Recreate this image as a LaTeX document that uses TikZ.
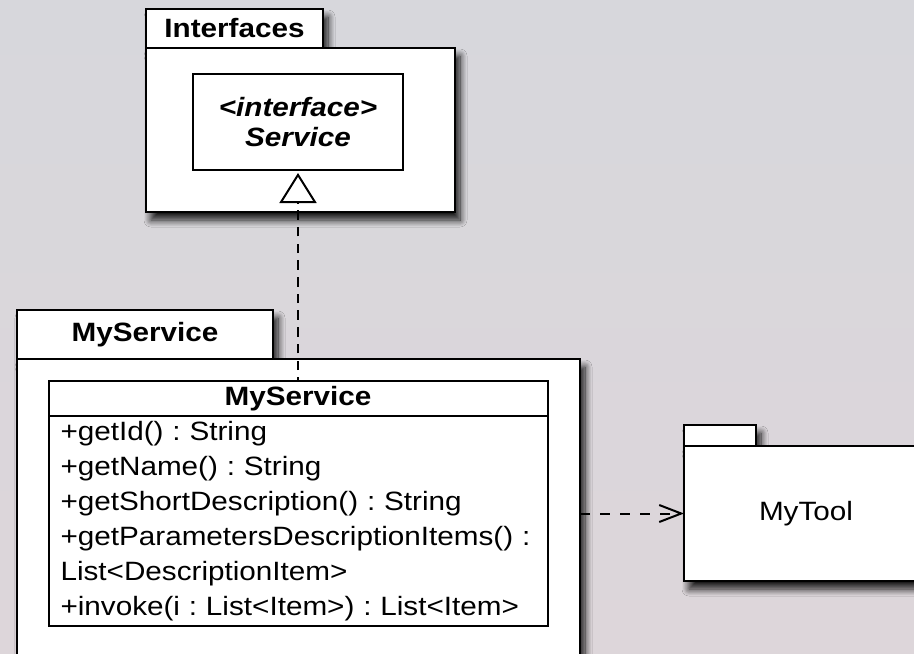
\documentclass[tikz,border=0pt]{standalone}
\usepackage{fontspec}
\setmainfont{Liberation Sans}[FakeStretch=1.12]
\usetikzlibrary{positioning,arrows.meta,shadows.blur}
\frenchspacing

\definecolor{bgtop}{RGB}{215,215,220}
\definecolor{bgmid}{RGB}{214,214,215}
\definecolor{bgbot}{RGB}{221,214,218}

\newcommand{\umlsize}{\fontsize{26.5}{35}\selectfont}

\begin{document}
\begin{tikzpicture}[x=1pt, y=-1pt,
    box/.style={draw=black, fill=white, line width=2pt, outer sep=0pt, inner sep=0pt, font=\umlsize},
    pkgshadow/.style={blur shadow={shadow xshift=5pt, shadow yshift=-8pt, shadow blur radius=7pt,
        shadow blur steps=12, shadow opacity=90}},
    pkgtab/.style={box, pkgshadow, font=\umlsize\bfseries, anchor=south west},
    pkgbody/.style={box, pkgshadow, anchor=north west},
    realize/.style={line width=2pt, dash pattern=on 9.5pt off 7.2pt, dash phase=5.7pt,
        -{Triangle[open, length=30pt, width=37pt]}, shorten >=3pt},
    dep/.style={line width=2pt, dash pattern=on 10pt off 10pt,
        -{Straight Barb[length=22pt, width=17pt]}}]
    \useasboundingbox (0,0) rectangle (914,654);
    \clip (0,0) rectangle (914,654);
    \shade[top color=bgtop, middle color=bgmid, bottom color=bgbot] (0,0) rectangle (914,654);

    % package Interfaces
    \node[pkgtab, minimum width=177pt, minimum height=39pt] (tabif) at (146,48) {Interfaces};
    \node[pkgbody, minimum width=309pt, minimum height=164pt] (pkgif) at (tabif.south west) {};
    \node[box, minimum width=210pt, minimum height=96pt, align=center,
        font=\fontsize{26.5}{30}\selectfont\bfseries\itshape] (svc) at (298,122) {<interface>\\Service};

    % package MyService
    \node[pkgtab, minimum width=256pt, minimum height=49pt] (tabsvc) at (17,359) {MyService};
    \node[pkgbody, minimum width=563pt, minimum height=360pt] (pkgsvc) at (tabsvc.south west) {};
    \node[box, minimum width=499pt, minimum height=35pt, font=\umlsize\bfseries] (clsname) at (298,398.5) {MyService};
    \node[box, below=0pt of clsname, text width=475pt, inner xsep=12pt, inner ysep=5pt,
        minimum height=209pt, align=left] (clsops) {+getId() : String\\
        +getName() : String\\
        +getShortDescription() : String\\
        +getParametersDescriptionItems() :\\
        List<DescriptionItem>\\
        +invoke(i : List<Item>) : List<Item>};

    % package MyTool
    \node[pkgtab, minimum width=72pt, minimum height=21pt] (tabtool) at (684,446) {};
    \node[pkgbody, minimum width=244pt, minimum height=135pt] (mytool) at (tabtool.south west) {MyTool};

    \draw[realize] (clsname.north) -- (svc.south);
    \draw[dep] (pkgsvc.east |- mytool.west) -- (mytool.west);
\end{tikzpicture}
\end{document}
